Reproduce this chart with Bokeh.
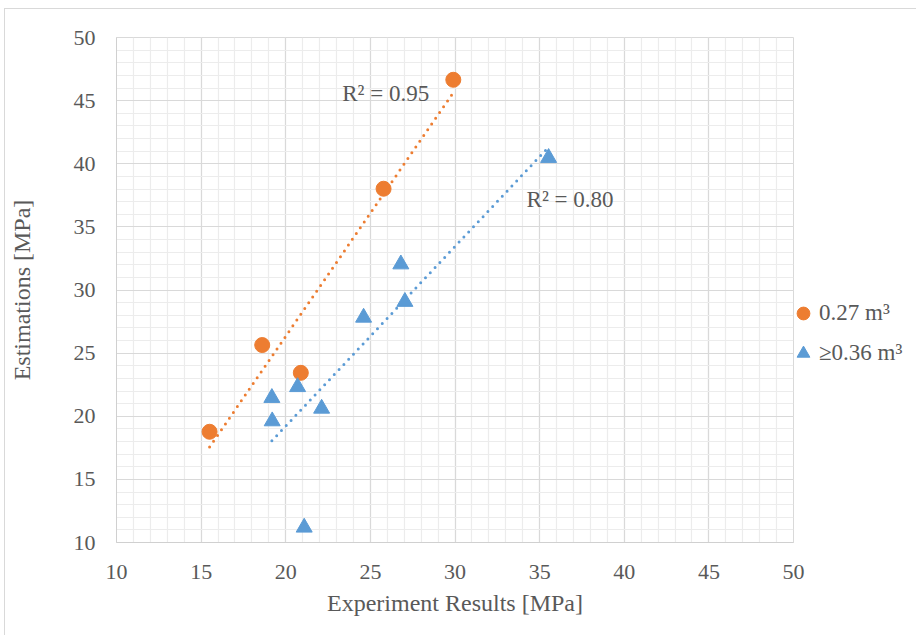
import numpy as np
from bokeh.plotting import figure
from bokeh.models import Range1d, SingleIntervalTicker, Legend, LegendItem, Label
from bokeh.embed import file_html
from bokeh.resources import INLINE

# ---- data ----
small_x = [15.50, 18.61, 20.89, 25.78, 29.90]
small_y = [18.77, 25.64, 23.44, 38.02, 46.65]

large_x = [19.18, 19.20, 20.70, 22.12, 21.09, 24.60, 26.80, 27.04, 35.53]
large_y = [21.46, 19.61, 22.32, 20.61, 11.19, 27.82, 32.04, 29.07, 40.47]

series_labels = ["0.27 m\u00b3", "\u22650.36 m\u00b3"]
r2_texts = ["R\u00b2 = 0.95", "R\u00b2 = 0.80"]
ticks = [10, 15, 20, 25, 30, 35, 40, 45, 50]

ORANGE = "#ED7D31"
BLUE = "#5B9BD5"
TEXT = "#595959"
FONT = "Liberation Serif"

p = figure(frame_width=677, frame_height=505, output_backend="svg", toolbar_location=None,
           x_range=Range1d(ticks[0], ticks[-1]), y_range=Range1d(ticks[0], ticks[-1]),
           min_border_left=110, min_border_top=28, min_border_right=113, min_border_bottom=93,
           styles={"margin-left": "4px", "margin-top": "8px",
                   "border-left": "1px solid #d9d9d9", "border-top": "1px solid #d9d9d9"})
p.background_fill_color = "white"
p.border_fill_color = "white"
p.outline_line_color = "#d9d9d9"

for ax in (p.xaxis[0], p.yaxis[0]):
    ax.ticker = SingleIntervalTicker(interval=5, num_minor_ticks=5)
    ax.major_tick_line_color = None
    ax.minor_tick_line_color = None
    ax.major_tick_out = 0
    ax.major_tick_in = 0
    ax.minor_tick_out = 0
    ax.axis_line_color = "#d0d0d0"
    ax.major_label_text_font = FONT
    ax.major_label_text_font_size = "22px"
    ax.major_label_text_color = TEXT
    ax.axis_label_text_font = FONT
    ax.axis_label_text_font_size = "24px"
    ax.axis_label_text_font_style = "normal"
    ax.axis_label_text_color = TEXT

p.xaxis.axis_label = "Experiment Results [MPa]"
p.yaxis.axis_label = "Estimations [MPa]"
p.xaxis.major_label_standoff = 22
p.xaxis.axis_label_standoff = 8
p.yaxis.major_label_standoff = 21
p.yaxis.axis_label_standoff = 36

for g in (p.xgrid[0], p.ygrid[0]):
    g.ticker = SingleIntervalTicker(interval=5, num_minor_ticks=5)
    g.grid_line_color = "#d9d9d9"
    g.minor_grid_line_color = "#ececec"
    g.grid_line_width = 1.2
    g.minor_grid_line_width = 1.2

# trend lines (least squares from data)
def trend(xs, ys):
    xs = np.asarray(xs); ys = np.asarray(ys)
    m, b = np.polyfit(xs, ys, 1)
    x0, x1 = xs.min(), xs.max()
    return [x0, x1], [m * x0 + b, m * x1 + b]

tx, ty = trend(small_x, small_y)
p.line(tx, ty, line_color=ORANGE, line_width=3, line_dash="0 7", line_cap="round")
tx, ty = trend(large_x, large_y)
p.line(tx, ty, line_color=BLUE, line_width=3, line_dash="0 7", line_cap="round")

r1 = p.scatter(small_x, small_y, marker="circle", size=15, fill_color=ORANGE, line_color=ORANGE)
r2 = p.scatter(large_x, large_y, marker="triangle", size=16, fill_color=BLUE, line_color=BLUE)

p.add_layout(Label(x=23.34, y=45.6, text=r2_texts[0], text_font=FONT, text_font_size="23px",
                   text_color=TEXT, text_baseline="middle"))
p.add_layout(Label(x=34.23, y=37.14, text=r2_texts[1], text_font=FONT, text_font_size="23px",
                   text_color=TEXT, text_baseline="middle"))

legend = Legend(items=[LegendItem(label=series_labels[0], renderers=[r1]),
                       LegendItem(label=series_labels[1], renderers=[r2])],
                location=(-6, 173), glyph_width=32, glyph_height=32, spacing=8,
                label_standoff=0, padding=0, margin=0, border_line_color=None,
                background_fill_alpha=0,
                label_text_font=FONT, label_text_font_size="23px", label_text_color=TEXT)
p.add_layout(legend, "right")

open("out.html", "w").write(file_html(p, INLINE))
